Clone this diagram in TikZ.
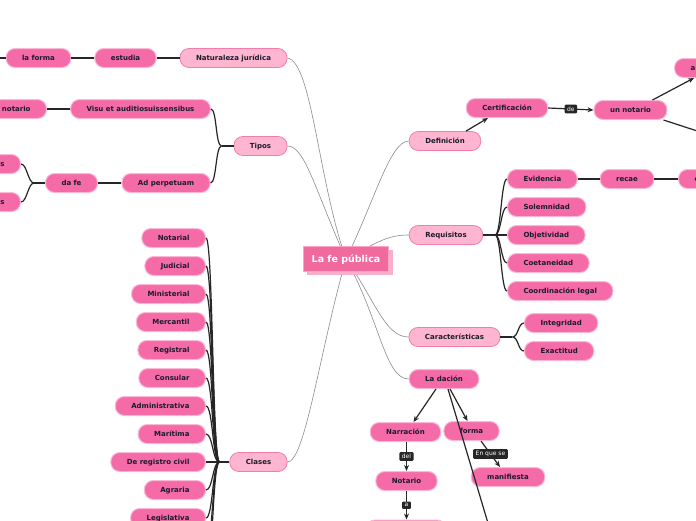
\documentclass[tikz,border=0pt]{standalone}
\usepackage{fontspec}
\setmainfont{DejaVu Sans}
\usetikzlibrary{arrows.meta,backgrounds}
\definecolor{dpink}{HTML}{F46BA8}
\definecolor{dpinkb}{HTML}{FBB8D4}
\definecolor{lpink}{HTML}{FDB5D0}
\definecolor{lpinkb}{HTML}{F27DAB}
\definecolor{rootf}{HTML}{F06A9E}
\definecolor{rootb}{HTML}{F9A5C6}
\definecolor{roots}{HTML}{F7AFCB}
\definecolor{txt}{HTML}{1B1B2B}
\definecolor{lab}{HTML}{262626}
\tikzset{
 base/.style={rounded corners=9pt, minimum height=19pt, inner xsep=16pt, inner ysep=0pt,
   font=\fontsize{7}{8}\selectfont\bfseries, text=txt, line width=1pt, text height=5.5pt, text depth=0.6pt},
 topic/.style={base, fill=dpink, draw=dpinkb},
 main/.style={base, fill=lpink, draw=lpinkb, line width=0.8pt},
 rootnode/.style={fill=rootf, draw=rootb, line width=1.2pt, minimum width=85pt, minimum height=25pt,
   text=white, font=\fontsize{9.5}{11}\selectfont\bfseries, text height=7pt, text depth=1pt},
 gline/.style={draw=black!45, line width=0.6pt},
 bline/.style={draw=black!85, line width=1.2pt},
 arr/.style={draw=black!85, line width=1.2pt, -{Stealth[length=6pt,width=5pt]}},
 lbl/.style={fill=lab, text=white, font=\fontsize{6}{7}\selectfont, rounded corners=1pt, inner xsep=2.5pt, inner ysep=2pt},
}
\begin{document}
\begin{tikzpicture}[x=1pt,y=-1pt]
\useasboundingbox (0,0) rectangle (696,520);
\clip (0,0) rectangle (696,520);

% root
\node[rootnode] (root) at (346,259) {La fe pública};

% left: Naturaleza juridica
\node[main] (nat) at (233.5,58) {Naturaleza jurídica};
\node[topic] (est) at (125.5,58) {estudia};
\node[topic] (laf) at (38.5,58) {la forma};
\coordinate (lo) at (-20,58);
\draw[bline] (nat.west) -- (est.east);
\draw[bline] (est.west) -- (laf.east);
\draw[bline] (laf.west) -- (lo);

% Tipos
\node[main] (tip) at (260.5,146) {Tipos};
\node[topic] (visu) at (140.5,109) {Visu et auditiosuissensibus};
\node[topic,anchor=east] (not1) at (47,109) {notario};
\node[topic] (adp) at (166,183) {Ad perpetuam};
\node[topic] (dafe) at (71.5,183) {da fe};
\node[topic,anchor=east] (s1) at (21,164) {s};
\node[topic,anchor=east] (s2) at (21,202) {s};
\draw[bline] (tip.west) -- ++(-12,0) coordinate (tb);
\draw[bline] (tb) .. controls +(-6,0) and +(6,0) .. (visu.east);
\draw[bline] (tb) .. controls +(-6,0) and +(6,0) .. (adp.east);
\draw[bline] (visu.west) -- (not1.east);
\draw[bline] (adp.west) -- (dafe.east);
\draw[bline] (dafe.west) -- ++(-11,0) coordinate (db);
\draw[bline] (db) .. controls +(-6,0) and +(6,0) .. (s1.east);
\draw[bline] (db) .. controls +(-6,0) and +(6,0) .. (s2.east);

% Clases
\node[main] (cla) at (258.5,462) {Clases};
\draw[bline] (cla.west) -- ++(-10,0) coordinate (cb);
\foreach \n/\t/\y in {cn1/Notarial/238, cn2/Judicial/266, cn3/Ministerial/294, cn4/Mercantil/322,
  cn5/Registral/350, cn6/Consular/378, cn7/Administrativa/406, cn8/Marítima/434,
  cn9/De registro civil/462, cn10/Agraria/490, cn11/Legislativa/518}{
  \node[topic,anchor=east] (\n) at (206,\y) {\t};
  \draw[bline] (cb) .. controls +(-7,0) and +(7,0) .. (\n.east);
}
\coordinate (cx1) at (206,546);
\coordinate (cx2) at (206,574);
\draw[bline] (cb) .. controls +(-7,0) and +(7,0) .. (cx1);
\draw[bline] (cb) .. controls +(-7,0) and +(7,0) .. (cx2);

% Definicion
\node[main] (def) at (445,141) {Definición};
\node[topic] (cert) at (507,108) {Certificación};
\node[topic] (unn) at (630.5,110) {un notario};
\node[topic,anchor=west] (a1) at (674,68) {a};
\coordinate (c1) at (725,140);
\draw[arr] ([xshift=21pt]def.north) -- ([xshift=-19pt]cert.south);
\draw[arr] (cert.east) -- node[lbl]{de} (unn.west);
\draw[arr] ([xshift=22pt]unn.north) -- ([xshift=20pt]a1.south west);
\draw[arr] ([xshift=33pt]unn.south) -- (c1);

% Requisitos
\node[main] (req) at (446,235) {Requisitos};
\draw[bline] (req.east) -- ++(12,0) coordinate (rb);
\foreach \n/\t/\y in {r1/Evidencia/179, r2/Solemnidad/207, r3/Objetividad/235, r4/Coetaneidad/263, r5/Coordinación legal/291}{
  \node[topic,anchor=west] (\n) at (507,\y) {\t};
  \draw[bline] (rb) .. controls +(6,0) and +(-6,0) .. (\n.west);
}
\node[topic] (recae) at (627,179) {recae};
\node[topic,anchor=west] (e1) at (678,179) {e};
\draw[bline] (r1.east) -- (recae.west);
\draw[bline] (recae.east) -- (e1.west);

% Caracteristicas
\node[main] (car) at (454.5,337) {Características};
\node[topic,anchor=west] (int) at (524,323) {Integridad};
\node[topic,anchor=west] (exa) at (524,351) {Exactitud};
\draw[bline] (car.east) -- ++(12,0) coordinate (kb);
\draw[bline] (kb) .. controls +(6,0) and +(-6,0) .. (int.west);
\draw[bline] (kb) .. controls +(6,0) and +(-6,0) .. (exa.west);

% La dacion
\node[topic] (dac) at (444,379) {La dación};
\node[topic] (nar) at (405.5,432) {Narración};
\node[topic] (for) at (471.5,431) {forma};
\node[topic] (not2) at (406.5,481) {Notario};
\node[topic] (man) at (508,477) {manifiesta};
\node[topic, minimum width=80pt, anchor=north] (bot) at (406,519.5) {};
\coordinate (c2) at (496,550);
\draw[arr] ([xshift=4pt]dac.south) -- (c2);
\draw[arr] ([xshift=-8pt]dac.south) -- ([xshift=8pt]nar.north);
\draw[arr] ([xshift=6pt]dac.south) -- ([xshift=-4pt]for.north);
\draw[arr] (not2.north |- nar.south) -- node[lbl]{del} (not2.north);
\draw[arr] (not2.south) -- node[lbl]{a} ([xshift=0.5pt]bot.north);
\draw[arr] ([xshift=9.5pt]for.south) -- node[lbl]{En que se} ([xshift=-8pt]man.north);

\begin{pgfonlayer}{background}
\fill[white] (0,0) rectangle (696,520);
\draw[gline] (nat.east) .. controls (312,62) and (318,180) .. (root.center);
\draw[gline] (tip.east) .. controls (305,146) and (315,190) .. (root.center);
\draw[gline] (cla.east) .. controls (305,462) and (320,350) .. (root.center);
\draw[gline] (def.west) .. controls (390,141) and (375,200) .. (root.center);
\draw[gline] (req.west) .. controls (390,235) and (380,240) .. (root.center);
\draw[gline] (car.west) .. controls (385,337) and (375,300) .. (root.center);
\draw[gline] (dac.west) .. controls (385,379) and (380,320) .. (root.center);
\fill[roots] (307,249.5) rectangle (392.5,274.5);
\end{pgfonlayer}
\end{tikzpicture}
\end{document}
